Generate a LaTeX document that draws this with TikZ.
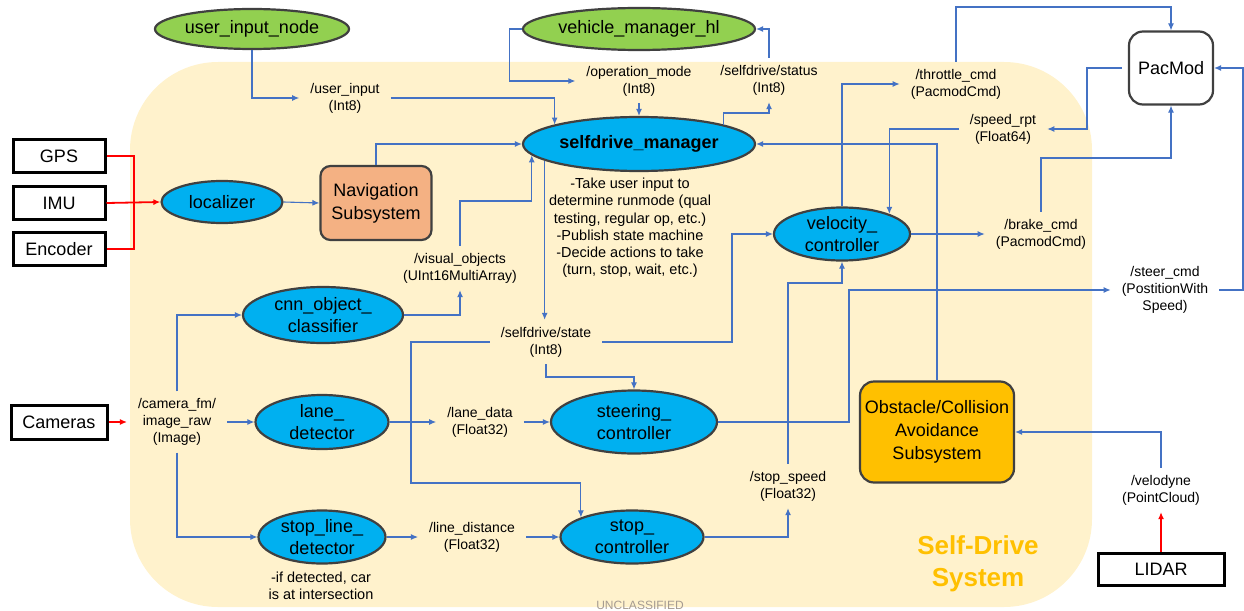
\documentclass[tikz,border=0pt]{standalone}
\usepackage{fontspec}
\setmainfont{Liberation Sans}
\usetikzlibrary{shapes,arrows.meta}

\definecolor{sdyellow}{RGB}{255,242,204}
\definecolor{rosblue}{RGB}{0,176,240}
\definecolor{rosgreen}{RGB}{146,208,80}
\definecolor{navorange}{RGB}{244,177,131}
\definecolor{obsgold}{RGB}{255,192,0}
\definecolor{wireblue}{RGB}{68,114,196}
\definecolor{edgegray}{RGB}{64,64,64}
\definecolor{markgray}{RGB}{165,155,145}

\begin{document}
\begin{tikzpicture}[x=1pt, y=-1pt, >={Latex[length=7pt,width=6pt]},
	rosnode/.style={ellipse, draw=edgegray, line width=2.2pt, fill=rosblue, inner sep=0pt, align=center, font=\fontsize{18}{22}\selectfont},
	extnode/.style={rosnode, fill=rosgreen},
	subsys/.style={rectangle, rounded corners=10pt, draw=edgegray, line width=2.2pt, inner sep=0pt, align=center, font=\fontsize{18}{23}\selectfont},
	sensor/.style={rectangle, draw=black, line width=3pt, minimum width=92pt, minimum height=33pt, inner sep=0pt, font=\fontsize{18}{22}\selectfont},
	topic/.style={align=center, inner xsep=11pt, inner ysep=7pt, font=\fontsize{14}{17}\selectfont},
	wire/.style={draw=wireblue, line width=1.1pt, ->},
	hwbus/.style={draw=red, line width=1.1pt},
	hw/.style={hwbus, ->}]
	\useasboundingbox (0,0) rectangle (1244,610);
	\fill[sdyellow, rounded corners=88pt] (130,62) rectangle (1092,607);
	\node[font=\fontsize{26}{32}\selectfont\bfseries, text=obsgold, align=center] (sdtitle) at (978,564) {Self-Drive\\System};
	\node[font=\fontsize{12}{14}\selectfont, text=markgray, anchor=base] (uncl) at (640,609) {UNCLASSIFIED};

	% ros nodes
	\node[extnode, minimum width=194pt, minimum height=40pt] (uin) at (252,29) {user\_input\_node};
	\node[extnode, minimum width=232pt, minimum height=42pt] (vmhl) at (639,29) {vehicle\_manager\_hl};
	\node[rosnode, minimum width=232pt, minimum height=54pt, font=\fontsize{18}{22}\selectfont\bfseries] (sdm) at (639,144) {selfdrive\_manager};
	\node[rosnode, minimum width=121pt, minimum height=42pt] (loc) at (222,202) {localizer};
	\node[subsys, fill=navorange, minimum width=111pt, minimum height=74pt] (nav) at (376,203) {Navigation\\Subsystem};
	\node[rosnode, minimum width=136pt, minimum height=53pt] (velc) at (842,234) {velocity\_\\controller};
	\node[rosnode, minimum width=160pt, minimum height=56pt] (cnn) at (323,315) {cnn\_object\_\\classifier};
	\node[rosnode, minimum width=133pt, minimum height=54pt] (lane) at (322,422) {lane\_\\detector};
	\node[rosnode, minimum width=127pt, minimum height=53pt] (sld) at (322,537) {stop\_line\_\\detector};
	\node[rosnode, minimum width=166pt, minimum height=63pt] (steer) at (634,422) {steering\_\\controller};
	\node[rosnode, minimum width=143pt, minimum height=53pt] (stopc) at (632,537) {stop\_\\controller};
	\node[subsys, fill=obsgold, rounded corners=14pt, minimum width=154pt, minimum height=101pt] (obs) at (937,432) {Obstacle/Collision\\Avoidance\\Subsystem};
	\node[subsys, fill=white, rounded corners=14pt, minimum width=84pt, minimum height=73pt] (pac) at (1171,68) {PacMod};

	% hardware
	\foreach \n/\t/\y in {gps/GPS/156, imu/IMU/203, enc/Encoder/249}
		\node[sensor] (\n) at (59,\y) {\t};
	\node[sensor, minimum width=96pt, minimum height=34pt] (cam) at (59,422) {Cameras};
	\node[sensor, minimum width=126pt, minimum height=32pt] (lidar) at (1161,569) {LIDAR};

	% notes
	\node[align=center, font=\fontsize{14.5}{17.2}\selectfont] (sdmnote) at (630,228) {-Take user input to\\determine runmode (qual\\testing, regular op, etc.)\\-Publish state machine\\-Decide actions to take\\(turn, stop, wait, etc.)};
	\node[align=center, font=\fontsize{14.5}{17}\selectfont] (sldnote) at (321,586) {-if detected, car\\is at intersection};

	% topics
	\node[topic] (luser) at (345,98) {/user\_input\\(Int8)};
	\node[topic] (lopmode) at (639,81) {/operation\_mode\\(Int8)};
	\node[topic] (lstatus) at (769,80) {/selfdrive/status\\(Int8)};
	\node[topic] (lvis) at (460,268) {/visual\_objects\\(UInt16MultiArray)};
	\node[topic] (lstate) at (546,342) {/selfdrive/state\\(Int8)};
	\node[topic] (lcam) at (177,422) {/camera\_fm/\\image\_raw\\(Image)};
	\node[topic] (llane) at (480,422) {/lane\_data\\(Float32)};
	\node[topic] (lline) at (472,537) {/line\_distance\\(Float32)};
	\node[topic] (lstop) at (788,486) {/stop\_speed\\(Float32)};
	\node[topic] (lthr) at (956,84) {/throttle\_cmd\\(PacmodCmd)};
	\node[topic] (lspd) at (1003,129) {/speed\_rpt\\(Float64)};
	\node[topic] (lbrk) at (1041,234) {/brake\_cmd\\(PacmodCmd)};
	\node[topic] (lsteer) at (1165,290) {/steer\_cmd\\(PostitionWith\\Speed)};
	\node[topic] (lvel) at (1161,490) {/velodyne\\(PointCloud)};

	% sensor wiring
	\draw[hwbus] (gps.east) -- (gps.east -| 134,0) |- (enc.east);
	\draw[hw, line width=1.8pt] (imu.east) -- (loc.west);
	\draw[hw] (cam.east) -- (lcam.west);
	\draw[hw] (lidar.north) -- (lvel.south);

	% topics
	\draw[wire] (uin.south) |- (luser.west);
	\draw[wire] (luser.east) -| (sdm.167);
	\draw[wire] (vmhl.west) -- ++(-12,0) |- (lopmode.west);
	\draw[wire] (lopmode.south) -- (sdm.north);
	\draw[wire] (sdm.13) -- (sdm.13 |- 0,113) -| (lstatus.south);
	\draw[wire] (lstatus.north) |- (vmhl.east);
	\draw[wire] (loc.east) -- (nav.west);
	\draw[wire] (nav.north) |- (sdm.west);
	\draw[wire] (lvis.north) -- (lvis.north |- 0,201) -| (sdm.186);
	\draw[wire] (cnn.east) -| (lvis.south);
	\draw[wire] (sdm.190) -- (sdm.190 |- lstate.north);
	\draw[wire] (lstate.west) -- (lstate.west -| 411,0) |- (stopc.159 |- 0,483) -- (stopc.159);
	\draw[wire] (lstate.south) -- (lstate.south |- 0,377) -| (steer.north);
	\draw[wire] (lstate.east) -- (lstate.east -| 732,0) |- (velc.west);
	\draw[wire] (lcam.north) |- (cnn.west);
	\draw[wire] (lcam.east) -- (lane.west);
	\draw[wire] (lcam.south) |- (sld.west);
	\draw[wire] (lane.east) -- (llane.west);
	\draw[wire] (llane.east) -- (steer.west);
	\draw[wire] (sld.east) -- (lline.west);
	\draw[wire] (lline.east) -- (stopc.west);
	\draw[wire] (stopc.east) -| (lstop.south);
	\draw[wire] (lstop.north) -- (lstop.north |- 0,283) -| (velc.south);
	\draw[wire] (steer.east) -- (steer.east -| 849,0) |- (lsteer.west);
	\draw[wire] (obs.north) |- (sdm.east);
	\draw[wire] (velc.north) |- (lthr.west);
	\draw[wire] (lthr.north) -- (lthr.north |- 0,7) -| (pac.north);
	\draw[wire] ([xshift=-6pt]pac.west) -- (pac.west -| 1087,0) |- (lspd.east);
	\draw[wire] (lspd.west) -| (velc.23);
	\draw[wire] (velc.east) -- (lbrk.west);
	\draw[wire] (lbrk.north) -- (lbrk.north |- 0,158) -| (pac.south);
	\draw[wire] (lsteer.east) -- (lsteer.east -| 1243,0) |- (pac.east);
	\draw[wire] (lvel.north) |- (obs.east);
\end{tikzpicture}
\end{document}
